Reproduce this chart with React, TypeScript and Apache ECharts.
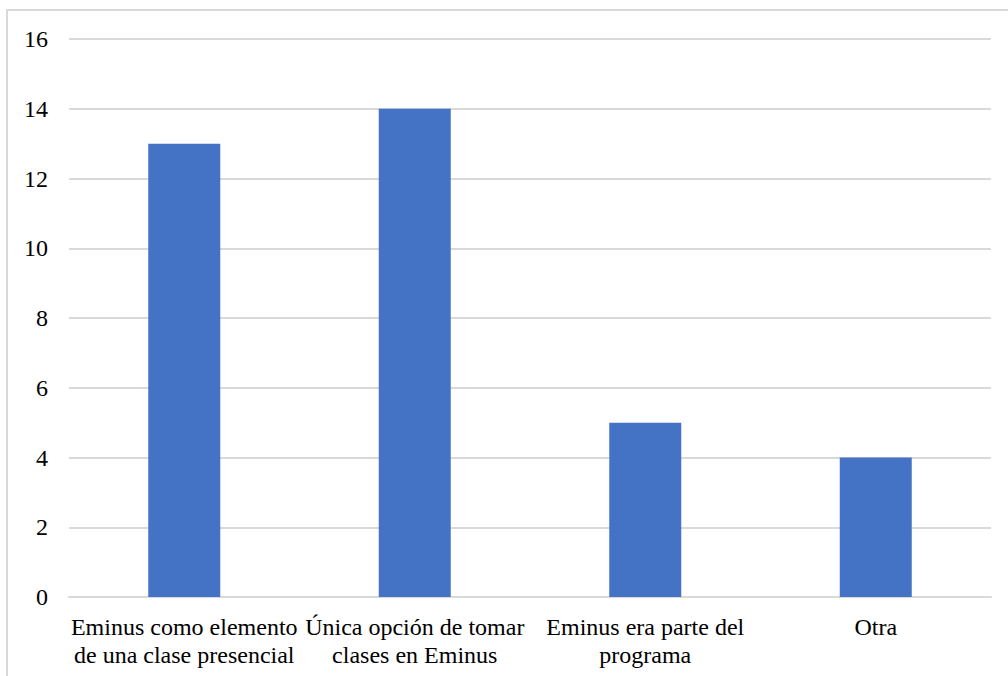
import React, { useEffect, useRef } from "react";
import * as echarts from "echarts";

const categories = [
  "Eminus como elemento\nde una clase presencial",
  "Única opción de tomar\nclases en Eminus",
  "Eminus era parte del\nprograma",
  "Otra",
];
const values = [13, 14, 5, 4];

const FONT = "Liberation Serif";

export default function App() {
  const ref = useRef<HTMLDivElement>(null);
  useEffect(() => {
    if (!ref.current) return;
    const chart = echarts.init(ref.current, null, { renderer: "svg" });
    chart.setOption({
      animation: false,
      textStyle: { fontFamily: FONT },
      graphic: [
        {
          type: "rect",
          shape: { x: 7, y: 10, width: 1100, height: 800 },
          style: { fill: "none", stroke: "#d9d9d9", lineWidth: 2 },
          silent: true,
        },
      ],
      grid: { left: 69, right: 17, top: 39, bottom: 79, containLabel: false },
      xAxis: {
        type: "category",
        data: categories,
        axisLine: { show: true, lineStyle: { color: "#d9d9d9", width: 2 } },
        axisTick: { show: false },
        axisLabel: {
          color: "#000",
          fontSize: 24,
          lineHeight: 28,
          margin: 16,
          interval: 0,
          fontFamily: FONT,
        },
      },
      yAxis: {
        type: "value",
        min: 0,
        max: 16,
        interval: 2,
        axisLine: { show: false },
        axisTick: { show: false },
        axisLabel: { color: "#000", fontSize: 24, margin: 21, fontFamily: FONT },
        splitLine: { lineStyle: { color: "#d9d9d9", width: 2 } },
      },
      series: [
        {
          type: "bar",
          data: values,
          barWidth: 72,
          itemStyle: { color: "#4472C4" },
        },
      ],
    });
    return () => chart.dispose();
  }, []);
  return (
    <div
      ref={ref}
      style={{ position: "absolute", left: 0, top: 0, width: 1008, height: 676 }}
    />
  );
}
